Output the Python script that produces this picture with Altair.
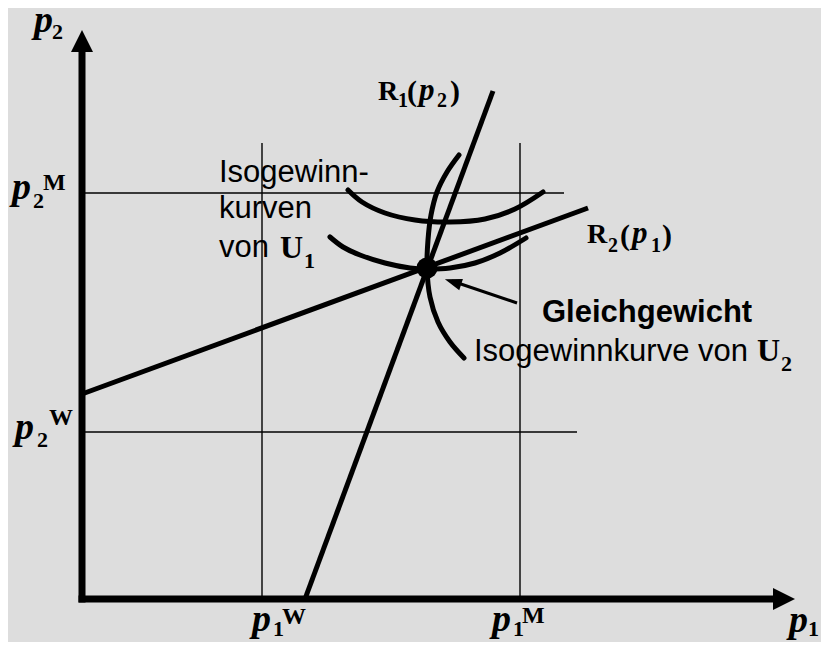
import altair as alt
import pandas as pd

BG = "#dddddd"
SERIF = "Liberation Serif"
SANS = "Liberation Sans"

# ---------- geometry, in reference pixel coordinates (y grows downward) ----------
axis_name = ["p2", "p2", "p1", "p1"]
axis_x = [82, 82, 78.5, 780]
axis_y = [44, 602.5, 599, 599]

guide_name = ["p2M", "p2M", "p2W", "p2W", "p1W", "p1W", "p1M", "p1M"]
guide_x = [82, 564, 82, 577, 262, 262, 520, 520]
guide_y = [193, 193, 432, 432, 143, 599, 143, 599]

resp_name = ["R1", "R1", "R2", "R2"]
resp_x = [305, 493, 82, 588]
resp_y = [599, 91, 394, 208]

u1a_x = [348, 362, 385, 415, 450, 485, 515, 543]
u1a_y = [190, 202, 213, 220, 222, 219, 209, 192]
u1b_x = [330, 343, 360, 385, 410, 427, 450, 475, 500, 526]
u1b_y = [237, 247, 255, 263, 268, 269, 268, 263, 253, 238]
u2_x = [459, 447, 437, 431, 428, 427, 430, 438, 450, 464]
u2_y = [155, 172, 192, 215, 240, 268, 297, 322, 342, 358]

arrow_x = [517, 452]
arrow_y = [303, 281]

eq_x = [427]
eq_y = [268]

head_x = [82, 784]
head_y = [41, 599]
head_angle = [0, 90]

tip_x = [453]
tip_y = [282]
tip_angle = [288]

# ---------- texts ----------
pvar_t = ["p", "p", "p", "p", "p", "p"]
pvar_x = [34, 12, 15, 252, 492, 789]
pvar_y = [32, 199, 439, 631, 631, 632]

psub_t = ["2", "2", "2", "1", "1", "1"]
psub_x = [52, 33, 37, 273, 513, 808]
psub_y = [39, 208, 447, 636, 636, 636]

psup_t = ["M", "W", "W", "M"]
psup_x = [43, 49, 282, 522]
psup_y = [190, 425, 624, 623]

R_t = ["R", "R"]
R_x = [378, 587]
R_y = [100, 243]

Rsub_t = ["1", "2", "2", "1"]
Rsub_x = [398, 437, 608, 651]
Rsub_y = [107, 107, 252, 252]

paren_t = ["(", ")", "(", ")"]
paren_x = [407, 450, 620, 662]
paren_y = [101, 101, 245, 245]

Rp_t = ["p", "p"]
Rp_x = [419, 632]
Rp_y = [100, 243]

sans_t = ["Isogewinn-", "kurven", "von", "Isogewinnkurve von"]
sans_x = [219, 219, 219, 474]
sans_y = [182, 218, 257, 361]

bold_t = ["Gleichgewicht"]
bold_x = [542]
bold_y = [322]

U_t = ["U", "U"]
U_x = [280, 757]
U_y = [258, 361]

Usub_t = ["1", "2"]
Usub_x = [304, 781]
Usub_y = [268, 371]

# ---------- scales ----------
W, H = 813, 634
xs = alt.Scale(domain=[8, 8 + W], nice=False, zero=False)
ys = alt.Scale(domain=[8, 8 + H], reverse=True, nice=False, zero=False)
X = alt.X("x:Q", scale=xs, axis=None)
Y = alt.Y("y:Q", scale=ys, axis=None)


def seg_df(names, xv, yv):
    return pd.DataFrame({"name": names, "x": xv, "y": yv, "i": list(range(len(xv)))})


def lines(df, width, interp="linear", cap="butt"):
    return alt.Chart(df).mark_line(
        color="black", strokeWidth=width, interpolate=interp, strokeCap=cap
    ).encode(x=X, y=Y, detail="name:N", order="i:Q")


def texts(tv, xv, yv, font, size, weight="normal", style="normal"):
    df = pd.DataFrame({"t": tv, "x": xv, "y": yv})
    return alt.Chart(df).mark_text(
        align="left", baseline="alphabetic", font=font, fontSize=size,
        fontWeight=weight, fontStyle=style, color="black"
    ).encode(x=X, y=Y, text="t:N")


curve_df = pd.concat([
    seg_df(["U1a"] * len(u1a_x), u1a_x, u1a_y),
    seg_df(["U1b"] * len(u1b_x), u1b_x, u1b_y),
    seg_df(["U2"] * len(u2_x), u2_x, u2_y),
])

layers = [
    lines(seg_df(guide_name, guide_x, guide_y), 1.4),
    lines(seg_df(axis_name, axis_x, axis_y), 7),
    lines(seg_df(resp_name, resp_x, resp_y), 5),
    lines(curve_df, 5, "catmull-rom", "round"),
    lines(seg_df(["arrow", "arrow"], arrow_x, arrow_y), 3),
    alt.Chart(pd.DataFrame({"x": head_x, "y": head_y, "a": head_angle})).mark_point(
        shape="M0,-1L1,1L-1,1Z", size=484, filled=True, color="black", opacity=1, strokeWidth=0
    ).encode(x=X, y=Y, angle=alt.Angle("a:Q", scale=None)),
    alt.Chart(pd.DataFrame({"x": tip_x, "y": tip_y, "a": tip_angle})).mark_point(
        shape="M0,-1L0.7,1L-0.7,1Z", size=289, filled=True, color="black", opacity=1, strokeWidth=0
    ).encode(x=X, y=Y, angle=alt.Angle("a:Q", scale=None)),
    alt.Chart(pd.DataFrame({"x": eq_x, "y": eq_y})).mark_circle(
        size=441, color="black", opacity=1
    ).encode(x=X, y=Y),
    texts(pvar_t, pvar_x, pvar_y, SERIF, 38, "bold", "italic"),
    texts(psub_t, psub_x, psub_y, SERIF, 22, "bold"),
    texts(psup_t, psup_x, psup_y, SERIF, 24, "bold"),
    texts(R_t, R_x, R_y, SERIF, 28, "bold"),
    texts(Rsub_t, Rsub_x, Rsub_y, SERIF, 20, "bold"),
    texts(paren_t, paren_x, paren_y, SERIF, 30, "bold"),
    texts(Rp_t, Rp_x, Rp_y, SERIF, 31, "bold", "italic"),
    texts(sans_t, sans_x, sans_y, SANS, 31),
    texts(bold_t, bold_x, bold_y, SANS, 31, "bold"),
    texts(U_t, U_x, U_y, SERIF, 32, "bold"),
    texts(Usub_t, Usub_x, Usub_y, SERIF, 22, "bold"),
]

chart = alt.layer(*layers).properties(
    width=W, height=H, padding=0, background=BG,
    autosize=alt.AutoSizeParams(type="none"),
).configure_view(strokeWidth=0)

chart.save("out.html", embed_options={"renderer": "svg", "actions": False})
